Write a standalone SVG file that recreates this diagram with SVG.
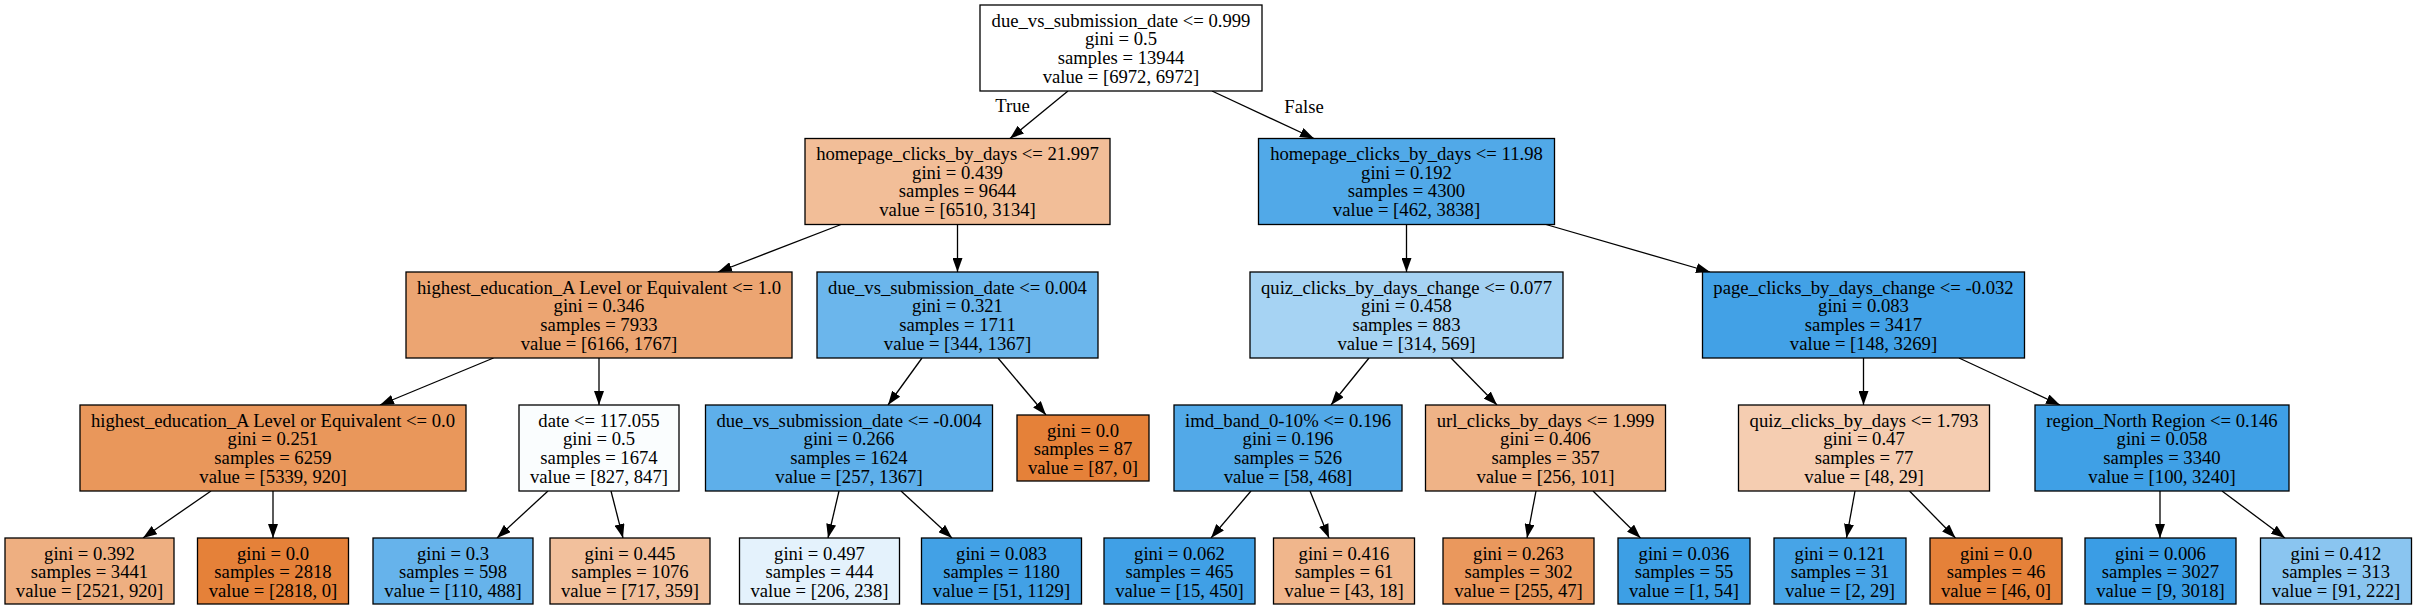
<svg xmlns="http://www.w3.org/2000/svg" width="2417" height="611" viewBox="0 0 2417 611">
<style>
g.n rect{stroke:#000;stroke-width:1.3}
text{font-family:"Liberation Serif","Times New Roman",serif;font-size:18.67px;text-anchor:middle;fill:#000}
#edges line{stroke:#000;stroke-width:1.3}
</style>
<defs>
<marker id="ah" markerUnits="userSpaceOnUse" markerWidth="14" markerHeight="10" refX="14" refY="5" orient="auto"><path d="M0,0 L14,5 L0,10 z" fill="#000"/></marker>
</defs>
<rect x="0" y="0" width="2417" height="611" fill="#fff"/>
<g id="edges">
<line x1="1068" y1="91" x2="1010" y2="138.5" marker-end="url(#ah)"/>
<line x1="1212" y1="91" x2="1314" y2="138.5" marker-end="url(#ah)"/>
<line x1="841" y1="224.5" x2="718" y2="272" marker-end="url(#ah)"/>
<line x1="957.5" y1="224.5" x2="957.5" y2="272" marker-end="url(#ah)"/>
<line x1="1406.5" y1="224.5" x2="1406.5" y2="272" marker-end="url(#ah)"/>
<line x1="1546" y1="224.5" x2="1710" y2="272" marker-end="url(#ah)"/>
<line x1="493.5" y1="358" x2="380" y2="405" marker-end="url(#ah)"/>
<line x1="599" y1="358" x2="599" y2="405" marker-end="url(#ah)"/>
<line x1="922" y1="358" x2="888" y2="405" marker-end="url(#ah)"/>
<line x1="998" y1="358" x2="1046" y2="415" marker-end="url(#ah)"/>
<line x1="1369" y1="358" x2="1331" y2="405" marker-end="url(#ah)"/>
<line x1="1451" y1="358" x2="1497" y2="405" marker-end="url(#ah)"/>
<line x1="1863.5" y1="358" x2="1863.5" y2="405" marker-end="url(#ah)"/>
<line x1="1959" y1="358" x2="2060" y2="405" marker-end="url(#ah)"/>
<line x1="211" y1="491" x2="143" y2="538" marker-end="url(#ah)"/>
<line x1="273" y1="491" x2="273" y2="538" marker-end="url(#ah)"/>
<line x1="548" y1="491" x2="497" y2="538" marker-end="url(#ah)"/>
<line x1="611" y1="491" x2="623" y2="538" marker-end="url(#ah)"/>
<line x1="839" y1="491" x2="828" y2="538" marker-end="url(#ah)"/>
<line x1="901" y1="491" x2="952" y2="538" marker-end="url(#ah)"/>
<line x1="1251" y1="491" x2="1211" y2="538" marker-end="url(#ah)"/>
<line x1="1310" y1="491" x2="1329" y2="538" marker-end="url(#ah)"/>
<line x1="1536" y1="491" x2="1527" y2="538" marker-end="url(#ah)"/>
<line x1="1593" y1="491" x2="1640.5" y2="538" marker-end="url(#ah)"/>
<line x1="1855" y1="491" x2="1846.5" y2="538" marker-end="url(#ah)"/>
<line x1="1909.5" y1="491" x2="1955.5" y2="538" marker-end="url(#ah)"/>
<line x1="2160" y1="491" x2="2160" y2="538" marker-end="url(#ah)"/>
<line x1="2222" y1="491" x2="2285" y2="538" marker-end="url(#ah)"/>
<text x="1012.5" y="112">True</text>
<text x="1304" y="113">False</text>
</g>
<g id="n0" class="n"><rect x="980" y="5" width="282" height="86" fill="#ffffff"/>
<text x="1121" y="26.5">due_vs_submission_date &lt;= 0.999</text><text x="1121" y="45.2">gini = 0.5</text><text x="1121" y="63.9">samples = 13944</text><text x="1121" y="82.6">value = [6972, 6972]</text></g>
<g id="n1" class="n"><rect x="805" y="138.5" width="305" height="86" fill="#f2be98"/>
<text x="957.5" y="160">homepage_clicks_by_days &lt;= 21.997</text><text x="957.5" y="178.7">gini = 0.439</text><text x="957.5" y="197.4">samples = 9644</text><text x="957.5" y="216.1">value = [6510, 3134]</text></g>
<g id="n16" class="n"><rect x="1258.5" y="138.5" width="296" height="86" fill="#51a9e8"/>
<text x="1406.5" y="160">homepage_clicks_by_days &lt;= 11.98</text><text x="1406.5" y="178.7">gini = 0.192</text><text x="1406.5" y="197.4">samples = 4300</text><text x="1406.5" y="216.1">value = [462, 3838]</text></g>
<g id="n2" class="n"><rect x="406" y="272" width="386" height="86" fill="#eca572"/>
<text x="599" y="293.5">highest_education_A Level or Equivalent &lt;= 1.0</text><text x="599" y="312.2">gini = 0.346</text><text x="599" y="330.9">samples = 7933</text><text x="599" y="349.6">value = [6166, 1767]</text></g>
<g id="n9" class="n"><rect x="817" y="272" width="281" height="86" fill="#6bb6ec"/>
<text x="957.5" y="293.5">due_vs_submission_date &lt;= 0.004</text><text x="957.5" y="312.2">gini = 0.321</text><text x="957.5" y="330.9">samples = 1711</text><text x="957.5" y="349.6">value = [344, 1367]</text></g>
<g id="n17" class="n"><rect x="1250" y="272" width="313" height="86" fill="#a6d3f3"/>
<text x="1406.5" y="293.5">quiz_clicks_by_days_change &lt;= 0.077</text><text x="1406.5" y="312.2">gini = 0.458</text><text x="1406.5" y="330.9">samples = 883</text><text x="1406.5" y="349.6">value = [314, 569]</text></g>
<g id="n24" class="n"><rect x="1702.5" y="272" width="322" height="86" fill="#42a1e6"/>
<text x="1863.5" y="293.5">page_clicks_by_days_change &lt;= -0.032</text><text x="1863.5" y="312.2">gini = 0.083</text><text x="1863.5" y="330.9">samples = 3417</text><text x="1863.5" y="349.6">value = [148, 3269]</text></g>
<g id="n3" class="n"><rect x="80" y="405" width="386" height="86" fill="#e9975b"/>
<text x="273" y="426.5">highest_education_A Level or Equivalent &lt;= 0.0</text><text x="273" y="445.2">gini = 0.251</text><text x="273" y="463.9">samples = 6259</text><text x="273" y="482.6">value = [5339, 920]</text></g>
<g id="n6" class="n"><rect x="519" y="405" width="160" height="86" fill="#fafdfe"/>
<text x="599" y="426.5">date &lt;= 117.055</text><text x="599" y="445.2">gini = 0.5</text><text x="599" y="463.9">samples = 1674</text><text x="599" y="482.6">value = [827, 847]</text></g>
<g id="n10" class="n"><rect x="705.5" y="405" width="287" height="86" fill="#5eafea"/>
<text x="849" y="426.5">due_vs_submission_date &lt;= -0.004</text><text x="849" y="445.2">gini = 0.266</text><text x="849" y="463.9">samples = 1624</text><text x="849" y="482.6">value = [257, 1367]</text></g>
<g id="n13" class="n"><rect x="1017" y="415" width="132" height="66" fill="#e58139"/>
<text x="1083" y="436.5">gini = 0.0</text><text x="1083" y="455.2">samples = 87</text><text x="1083" y="473.9">value = [87, 0]</text></g>
<g id="n18" class="n"><rect x="1174" y="405" width="228" height="86" fill="#52a9e8"/>
<text x="1288" y="426.5">imd_band_0-10% &lt;= 0.196</text><text x="1288" y="445.2">gini = 0.196</text><text x="1288" y="463.9">samples = 526</text><text x="1288" y="482.6">value = [58, 468]</text></g>
<g id="n21" class="n"><rect x="1425.5" y="405" width="240" height="86" fill="#efb387"/>
<text x="1545.5" y="426.5">url_clicks_by_days &lt;= 1.999</text><text x="1545.5" y="445.2">gini = 0.406</text><text x="1545.5" y="463.9">samples = 357</text><text x="1545.5" y="482.6">value = [256, 101]</text></g>
<g id="n25" class="n"><rect x="1738.5" y="405" width="251" height="86" fill="#f5cdb1"/>
<text x="1864" y="426.5">quiz_clicks_by_days &lt;= 1.793</text><text x="1864" y="445.2">gini = 0.47</text><text x="1864" y="463.9">samples = 77</text><text x="1864" y="482.6">value = [48, 29]</text></g>
<g id="n28" class="n"><rect x="2035" y="405" width="254" height="86" fill="#3fa0e6"/>
<text x="2162" y="426.5">region_North Region &lt;= 0.146</text><text x="2162" y="445.2">gini = 0.058</text><text x="2162" y="463.9">samples = 3340</text><text x="2162" y="482.6">value = [100, 3240]</text></g>
<g id="n4" class="n"><rect x="5" y="538" width="169" height="66" fill="#eeaf81"/>
<text x="89.5" y="559.5">gini = 0.392</text><text x="89.5" y="578.2">samples = 3441</text><text x="89.5" y="596.9">value = [2521, 920]</text></g>
<g id="n5" class="n"><rect x="197.5" y="538" width="151" height="66" fill="#e58139"/>
<text x="273" y="559.5">gini = 0.0</text><text x="273" y="578.2">samples = 2818</text><text x="273" y="596.9">value = [2818, 0]</text></g>
<g id="n7" class="n"><rect x="373" y="538" width="160" height="66" fill="#66b3eb"/>
<text x="453" y="559.5">gini = 0.3</text><text x="453" y="578.2">samples = 598</text><text x="453" y="596.9">value = [110, 488]</text></g>
<g id="n8" class="n"><rect x="550" y="538" width="160" height="66" fill="#f2c09c"/>
<text x="630" y="559.5">gini = 0.445</text><text x="630" y="578.2">samples = 1076</text><text x="630" y="596.9">value = [717, 359]</text></g>
<g id="n11" class="n"><rect x="739.5" y="538" width="160" height="66" fill="#e4f2fc"/>
<text x="819.5" y="559.5">gini = 0.497</text><text x="819.5" y="578.2">samples = 444</text><text x="819.5" y="596.9">value = [206, 238]</text></g>
<g id="n12" class="n"><rect x="921.5" y="538" width="160" height="66" fill="#42a1e6"/>
<text x="1001.5" y="559.5">gini = 0.083</text><text x="1001.5" y="578.2">samples = 1180</text><text x="1001.5" y="596.9">value = [51, 1129]</text></g>
<g id="n19" class="n"><rect x="1104" y="538" width="151" height="66" fill="#40a0e6"/>
<text x="1179.5" y="559.5">gini = 0.062</text><text x="1179.5" y="578.2">samples = 465</text><text x="1179.5" y="596.9">value = [15, 450]</text></g>
<g id="n20" class="n"><rect x="1273.5" y="538" width="141" height="66" fill="#f0b68c"/>
<text x="1344" y="559.5">gini = 0.416</text><text x="1344" y="578.2">samples = 61</text><text x="1344" y="596.9">value = [43, 18]</text></g>
<g id="n22" class="n"><rect x="1443" y="538" width="151" height="66" fill="#ea985d"/>
<text x="1518.5" y="559.5">gini = 0.263</text><text x="1518.5" y="578.2">samples = 302</text><text x="1518.5" y="596.9">value = [255, 47]</text></g>
<g id="n23" class="n"><rect x="1618" y="538" width="132" height="66" fill="#3d9fe5"/>
<text x="1684" y="559.5">gini = 0.036</text><text x="1684" y="578.2">samples = 55</text><text x="1684" y="596.9">value = [1, 54]</text></g>
<g id="n26" class="n"><rect x="1774" y="538" width="132" height="66" fill="#47a4e7"/>
<text x="1840" y="559.5">gini = 0.121</text><text x="1840" y="578.2">samples = 31</text><text x="1840" y="596.9">value = [2, 29]</text></g>
<g id="n27" class="n"><rect x="1930" y="538" width="132" height="66" fill="#e58139"/>
<text x="1996" y="559.5">gini = 0.0</text><text x="1996" y="578.2">samples = 46</text><text x="1996" y="596.9">value = [46, 0]</text></g>
<g id="n29" class="n"><rect x="2085" y="538" width="151" height="66" fill="#3a9de5"/>
<text x="2160.5" y="559.5">gini = 0.006</text><text x="2160.5" y="578.2">samples = 3027</text><text x="2160.5" y="596.9">value = [9, 3018]</text></g>
<g id="n30" class="n"><rect x="2260.5" y="538" width="151" height="66" fill="#8ac5f0"/>
<text x="2336" y="559.5">gini = 0.412</text><text x="2336" y="578.2">samples = 313</text><text x="2336" y="596.9">value = [91, 222]</text></g>
</svg>
